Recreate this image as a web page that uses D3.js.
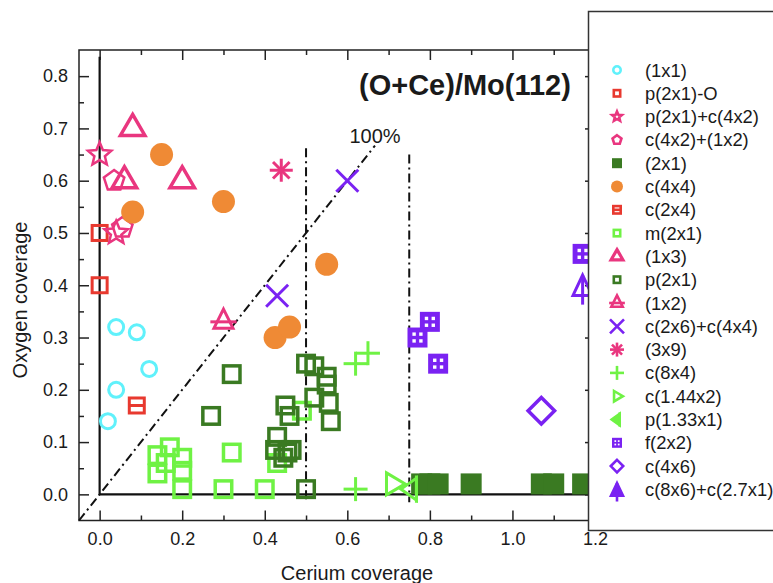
<!DOCTYPE html>
<html>
<head>
<meta charset="utf-8">
<script src="https://cdn.jsdelivr.net/npm/d3@7"></script>
<style>
  body { margin: 0; background: #fff; }
  text { font-family: "Liberation Sans", Arial, sans-serif; fill: #1a1a1a; }
</style>
</head>
<body>
<svg id="chart" width="773" height="583"></svg>
<script>
// ---- data: each point is [cerium coverage, oxygen coverage] ----
const s1x1        = [[0.04,0.32],[0.09,0.31],[0.12,0.24],[0.04,0.20],[0.02,0.14]];
const sP2x1O      = [[0.00,0.50],[0.00,0.40]];
const sP2x1C4x2   = [[0.00,0.65],[0.04,0.50]];
const sC4x2_1x2   = [[0.035,0.60],[0.055,0.51]];
const s2x1        = [[0.78,0.02],[0.80,0.02],[0.82,0.02],[0.90,0.02],[1.07,0.02],[1.10,0.02],[1.17,0.02]];
const sC4x4       = [[0.15,0.65],[0.30,0.56],[0.08,0.54],[0.55,0.44],[0.425,0.30],[0.46,0.32]];
const sC2x4       = [[0.09,0.17]];
const sM2x1       = [[0.14,0.075],[0.17,0.09],[0.16,0.06],[0.20,0.07],[0.20,0.045],[0.14,0.04],
                     [0.20,0.01],[0.30,0.01],[0.40,0.01],[0.32,0.08],[0.43,0.06],[0.49,0.16]];
const s1x3        = [[0.08,0.70],[0.06,0.60],[0.20,0.60]];
const sP2x1       = [[0.27,0.15],[0.32,0.23],[0.43,0.11],[0.45,0.17],[0.46,0.15],[0.425,0.085],
                     [0.455,0.08],[0.445,0.07],[0.465,0.085],[0.50,0.01],[0.50,0.25],[0.52,0.245],
                     [0.55,0.225],[0.55,0.21],[0.52,0.185],[0.555,0.175],[0.56,0.14]];
const s1x2        = [[0.30,0.33]];
const sC2x6C4x4   = [[0.60,0.60],[0.43,0.38]];
const s3x9        = [[0.44,0.62]];
const sC8x4       = [[0.62,0.25],[0.65,0.27],[0.62,0.01]];
const sC144x2     = [[0.71,0.02]];
const sP133x1     = [[0.755,0.01]];
const sF2x2       = [[0.77,0.30],[0.80,0.33],[0.82,0.25],[1.17,0.46]];
const sC4x6       = [[1.07,0.16]];
const sC8x6C27x1  = [[1.17,0.40]];

const seriesLabels = ["(1x1)","p(2x1)-O","p(2x1)+c(4x2)","c(4x2)+(1x2)","(2x1)","c(4x4)","c(2x4)",
  "m(2x1)","(1x3)","p(2x1)","(1x2)","c(2x6)+c(4x4)","(3x9)","c(8x4)","c(1.44x2)","p(1.33x1)",
  "f(2x2)","c(4x6)","c(8x6)+c(2.7x1)"];
const seriesData = [s1x1,sP2x1O,sP2x1C4x2,sC4x2_1x2,s2x1,sC4x4,sC2x4,sM2x1,s1x3,sP2x1,s1x2,
  sC2x6C4x4,s3x9,sC8x4,sC144x2,sP133x1,sF2x2,sC4x6,sC8x6C27x1];

const xMajor = [0,0.2,0.4,0.6,0.8,1.0,1.2];
const xMinor = [0.1,0.3,0.5,0.7,0.9,1.1];
const yMajor = [0,0.1,0.2,0.3,0.4,0.5,0.6,0.7,0.8];
const yMinor = [0.05,0.15,0.25,0.35,0.45,0.55,0.65,0.75];

// guide lines: full-coverage diagonal and two vertical markers
const fullLine = [[-0.05,-0.05],[0.667,0.667]];
const vMarks = [[0.5,-0.015,0.662],[0.75,-0.015,0.65]];

// ---- styles ----
const C = {
  cyan:"#60f1fb", red:"#e8392f", pink:"#e9367f", dgreen:"#3a7a22",
  orange:"#ef8a35", lgreen:"#6ff244", purple:"#7a22f2"
};
// [kind, colour, plot size, plot stroke, legend size, legend filled]
const styles = [
  ["circle", C.cyan, 18, 3, 10, false],
  ["square", C.red, 18, 3, 9, false],
  ["star", C.pink, 27, 2.5, 13, false],
  ["pentagon", C.pink, 24, 2.5, 12, false],
  ["squareFill", C.dgreen, 21, 0, 10, false],
  ["disc", C.orange, 23, 0, 12, false],
  ["squareBar", C.red, 18, 3, 10, false],
  ["square", C.lgreen, 20, 3.5, 9, false],
  ["triangle", C.pink, 28, 3.5, 15, false],
  ["square", C.dgreen, 20, 3.5, 9, false],
  ["triBar", C.pink, 22, 3, 14, false],
  ["cross", C.purple, 22, 3, 14, false],
  ["asterisk", C.pink, 23, 3, 14, false],
  ["plus", C.lgreen, 24, 3, 14, false],
  ["triRight", C.lgreen, 25, 3, 13, false],
  ["triLeft", C.lgreen, 25, 3, 14, true],
  ["windows", C.purple, 20, 0, 10, false],
  ["diamond", C.purple, 30, 3.5, 15, false],
  ["triStem", C.purple, 24, 3, 15, true]
];

const svg = d3.select("#chart");
const x = d3.scaleLinear().domain([-0.05,1.2]).range([79,595]);
const y = d3.scaleLinear().domain([-0.05,0.85]).range([520.5,50]);

// symbol painter: g is centred on the point
function mark(g, kind, col, s, sw, filled) {
  const h = s/2;
  const line = (x1,y1,x2,y2) => g.append("line").attr("x1",x1).attr("y1",y1).attr("x2",x2).attr("y2",y2)
      .attr("stroke",col).attr("stroke-width",sw);
  const poly = (pts, fill) => g.append("path").attr("d","M"+pts.map(p=>p.join(",")).join("L")+"Z")
      .attr("fill",fill ? col : "none").attr("stroke",col).attr("stroke-width",sw).attr("stroke-linejoin","miter");
  switch (kind) {
    case "circle":
      g.append("circle").attr("r",h-sw/2).attr("fill","none").attr("stroke",col).attr("stroke-width",sw); break;
    case "disc":
      g.append("circle").attr("r",h).attr("fill",col); break;
    case "square": {
      const a = h-sw/2;
      g.append("rect").attr("x",-a).attr("y",-a).attr("width",2*a).attr("height",2*a)
        .attr("fill","none").attr("stroke",col).attr("stroke-width",sw); break; }
    case "squareFill":
      g.append("rect").attr("x",-h).attr("y",-h).attr("width",s).attr("height",s).attr("fill",col); break;
    case "squareBar": {
      const a = h-sw/2;
      g.append("rect").attr("x",-a).attr("y",-a).attr("width",2*a).attr("height",2*a)
        .attr("fill","none").attr("stroke",col).attr("stroke-width",sw);
      line(-a,0,a,0); break; }
    case "star": {
      const R = h-sw/2, r = R*0.45, pts = [];
      for (let i=0;i<10;i++){ const ang = -Math.PI/2 + i*Math.PI/5, rr = i%2?r:R;
        pts.push([rr*Math.cos(ang), rr*Math.sin(ang)]); }
      poly(pts,false); break; }
    case "pentagon": {
      const R = h-sw/2, pts = [];
      for (let i=0;i<5;i++){ const ang = -Math.PI/2 + i*2*Math.PI/5; pts.push([R*Math.cos(ang), R*Math.sin(ang)]); }
      poly(pts,false); break; }
    case "triangle": {
      const w = s-sw, th = w*0.86;
      poly([[0,-2*th/3],[w/2,th/3],[-w/2,th/3]], filled); break; }
    case "triBar": {
      const w = s-sw, th = w*1.0;
      poly([[0,-2*th/3],[w/2,th/3],[-w/2,th/3]], false);
      line(-0.69*w,0,0.69*w,0); break; }
    case "cross":
      line(-h,-h,h,h); line(-h,h,h,-h); break;
    case "asterisk": {
      const d = h*0.72;
      line(0,-h,0,h); line(-h,0,h,0); line(-d,-d,d,d); line(-d,d,d,-d); break; }
    case "plus":
      line(-h,0,h,0); line(0,-h,0,h); break;
    case "triRight": {
      const H = s-sw, w = H*0.85;
      poly([[-w/3,-H/2],[2*w/3,0],[-w/3,H/2]], false); break; }
    case "triLeft": {
      const H = s-sw, w = H*0.7;
      poly([[w/3,-H/2],[-2*w/3,0],[w/3,H/2]], filled);
      line(w/3,-H*0.62,w/3,H*0.62); break; }
    case "windows": {
      g.append("rect").attr("x",-h).attr("y",-h).attr("width",s).attr("height",s).attr("fill",col);
      const ws = s*0.17, off = s*0.17;
      for (const dx of [-1,1]) for (const dy of [-1,1])
        g.append("rect").attr("x",dx*off-ws/2).attr("y",dy*off-ws/2).attr("width",ws).attr("height",ws).attr("fill","#fff");
      break; }
    case "diamond": {
      const R = h-sw/2;
      poly([[0,-R],[R,0],[0,R],[-R,0]], false); break; }
    case "triStem": {
      const w = s*0.8, th = s*0.85;
      poly([[0,-th/2],[w/2,th/2],[-w/2,th/2]], filled);
      line(0,-th/2,0,th/2+th*0.45); break; }
  }
}

// ---- frame and axes ----
svg.append("rect").attr("x",x(-0.05)).attr("y",y(0.85))
  .attr("width",x(1.2)-x(-0.05)).attr("height",y(-0.05)-y(0.85))
  .attr("fill","none").attr("stroke","#222").attr("stroke-width",1.5);

function styleAxis(g) {
  g.select(".domain").remove();
  g.selectAll(".tick line").attr("stroke","#222").attr("stroke-width",1.5);
  g.selectAll(".tick text").attr("font-size",18).attr("fill","#1a1a1a")
    .attr("font-family","'Liberation Sans', Arial, sans-serif");
}
const fmt = d3.format(".1f");
svg.append("g").attr("transform",`translate(0,${y(-0.05)})`)
  .call(d3.axisBottom(x).tickValues(xMajor).tickSizeInner(-10).tickSizeOuter(0).tickPadding(12).tickFormat(fmt)).call(styleAxis);
svg.append("g").attr("transform",`translate(0,${y(-0.05)})`)
  .call(d3.axisBottom(x).tickValues(xMinor).tickSizeInner(-5).tickSizeOuter(0).tickFormat("")).call(styleAxis);
svg.append("g").attr("transform",`translate(0,${y(0.85)})`)
  .call(d3.axisTop(x).tickValues(xMajor).tickSizeInner(-10).tickSizeOuter(0).tickFormat("")).call(styleAxis);
svg.append("g").attr("transform",`translate(0,${y(0.85)})`)
  .call(d3.axisTop(x).tickValues(xMinor).tickSizeInner(-5).tickSizeOuter(0).tickFormat("")).call(styleAxis);
svg.append("g").attr("transform",`translate(${x(-0.05)},0)`)
  .call(d3.axisLeft(y).tickValues(yMajor).tickSizeInner(-10).tickSizeOuter(0).tickPadding(11).tickFormat(fmt)).call(styleAxis);
svg.append("g").attr("transform",`translate(${x(-0.05)},0)`)
  .call(d3.axisLeft(y).tickValues(yMinor).tickSizeInner(-5).tickSizeOuter(0).tickFormat("")).call(styleAxis);
svg.append("g").attr("transform",`translate(${x(1.2)},0)`)
  .call(d3.axisRight(y).tickValues(yMajor).tickSizeInner(-10).tickSizeOuter(0).tickFormat("")).call(styleAxis);

// zero lines
svg.append("path").attr("d",`M${x(0)},${y(0.837)}V${y(0)}H${x(1.2)}`)
  .attr("fill","none").attr("stroke","#111").attr("stroke-width",2.2);

// dash-dot guides
const dash = "9,4,2,4";
svg.append("line").attr("x1",x(fullLine[0][0])).attr("y1",y(fullLine[0][1]))
  .attr("x2",x(fullLine[1][0])).attr("y2",y(fullLine[1][1]))
  .attr("stroke","#111").attr("stroke-width",2).attr("stroke-dasharray",dash);
vMarks.forEach(([v,lo,hi]) => svg.append("line").attr("x1",x(v)).attr("x2",x(v))
  .attr("y1",y(hi)).attr("y2",y(lo)).attr("stroke","#111").attr("stroke-width",2).attr("stroke-dasharray",dash));
svg.append("text").attr("x",x(0.667)).attr("y",y(0.667)-3).attr("text-anchor","middle")
  .attr("font-size",20).text("100%");

// ---- data marks ----
seriesData.forEach((pts,i) => {
  const [kind,col,s,sw] = styles[i];
  const g = svg.append("g").attr("class","series");
  pts.forEach(p => mark(g.append("g").attr("transform",`translate(${x(p[0])},${y(p[1])})`), kind, col, s, sw, false));
});

// title
svg.append("text").attr("x",359).attr("y",95).attr("font-size",29).attr("font-weight","bold").text("(O+Ce)/Mo(112)");

// axis titles
svg.append("text").attr("transform","translate(27,300) rotate(-90)").attr("text-anchor","middle")
  .attr("font-size",20).text("Oxygen coverage");
svg.append("text").attr("x",357).attr("y",580).attr("text-anchor","middle")
  .attr("font-size",20).text("Cerium coverage");

// ---- legend ----
const lg = svg.append("g");
lg.append("rect").attr("x",588.5).attr("y",11.5).attr("width",220).attr("height",519)
  .attr("fill","#fff").attr("stroke","#333").attr("stroke-width",1.5);
seriesLabels.forEach((lab,i) => {
  const cy = 70 + i*23.3;
  const [kind,col,,,ls,lf] = styles[i];
  mark(lg.append("g").attr("transform",`translate(617,${cy})`), kind, col, ls, kind === "triangle" ? 3.2 : 2.6, lf);
  lg.append("text").attr("x",645).attr("y",cy+6.5).attr("font-size",18.4).text(lab);
});
</script>
</body>
</html>
